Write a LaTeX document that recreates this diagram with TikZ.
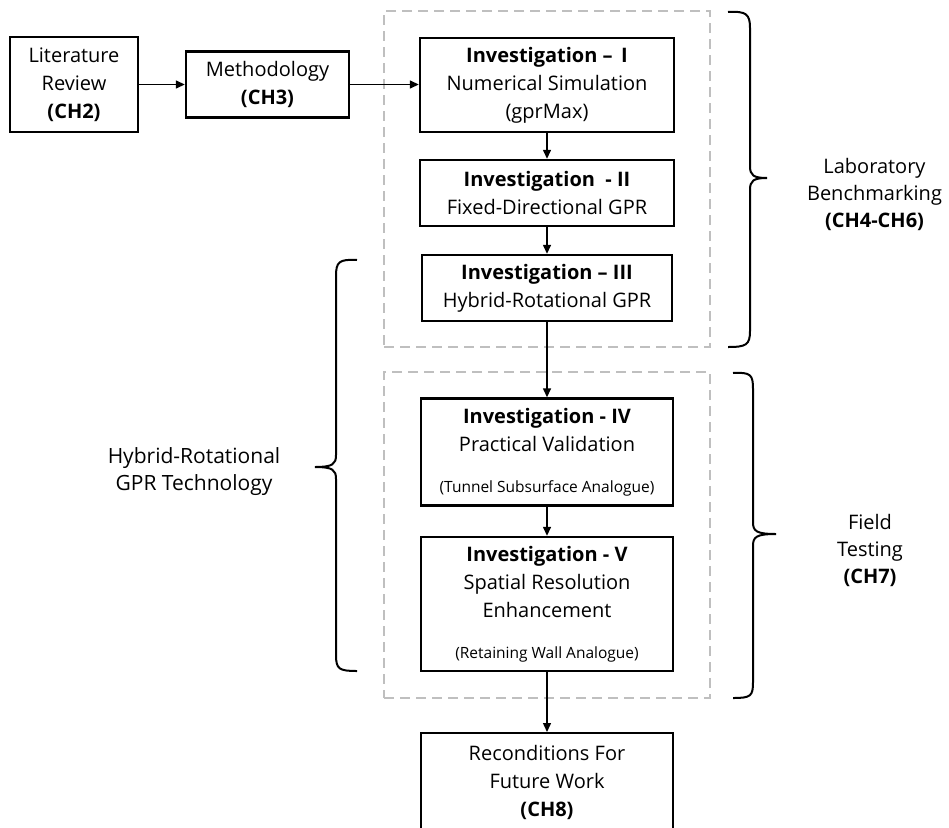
\documentclass[tikz,border=0pt]{standalone}
\usepackage{fontspec}
\setmainfont{Open Sans}
\usetikzlibrary{arrows.meta}
\newcommand\smtxt{\fontsize{15.5}{17}\selectfont}
\begin{document}
\begin{tikzpicture}[x=1pt,y=-1pt,
  box/.style={draw, line width=2.4pt, align=center, inner sep=0pt, font=\fontsize{20}{28}\selectfont},
  grp/.style={draw=black!25, dash pattern=on 10pt off 6pt, line width=2pt, inner sep=0pt},
  conn/.style={line width=1.4pt, -{Triangle[length=9pt,width=8pt]}},
  brc/.style={line width=2pt},
  lbl/.style={align=center, inner sep=0pt, font=\fontsize{20}{27}\selectfont}
]
\clip (0,0) rectangle (949,827);
% groups
\node[grp, minimum width=326pt, minimum height=336pt] (g1) at (547,179) {};
\node[grp, minimum width=326pt, minimum height=326pt] (g2) at (547,535) {};
% boxes
\node[box, minimum width=128pt, minimum height=95pt] (lit) at (74,84.5) {Literature\\Review\\\textbf{(CH2)}};
\node[box, minimum width=163pt, minimum height=66pt] (meth) at (267.5,84.5) {Methodology\\\textbf{(CH3)}};
\node[box, minimum width=254pt, minimum height=94pt] (inv1) at (547,85) {\textbf{Investigation -- \,I}\\Numerical Simulation\\(gprMax)};
\node[box, minimum width=254pt, minimum height=66pt] (inv2) at (547,193) {\textbf{Investigation \ - II}\\Fixed-Directional GPR};
\node[box, minimum width=250pt, minimum height=66pt] (inv3) at (547,288) {\textbf{Investigation -- III}\\Hybrid-Rotational GPR};
\node[box, minimum width=252pt, minimum height=107pt] (inv4) at (547,452) {\textbf{Investigation - IV}\\Practical Validation\\[13pt]{\smtxt (Tunnel Subsurface Analogue)}};
\node[box, minimum width=252pt, minimum height=134pt] (inv5) at (547,604) {\textbf{Investigation - V}\\Spatial Resolution\\Enhancement\\[13pt]{\smtxt (Retaining Wall Analogue)}};
\node[box, minimum width=252pt, anchor=north, inner ysep=12pt, text depth=80pt] (recon) at (547,732) {Reconditions For\\Future Work\\\textbf{(CH8)}};
% connectors
\draw[conn] (lit.east) -- (lit.east -| meth.west);
\draw[conn] (meth.east) -- (meth.east -| inv1.west);
\draw[conn] (inv1) -- (inv2);
\draw[conn] (inv2) -- (inv3);
\draw[conn] (inv3) -- (inv4);
\draw[conn] (inv4) -- (inv5);
\draw[conn] (inv5) -- (recon);
% side labels
\node[lbl] (lab) at (874.5,194) {Laboratory\\Benchmarking\\\textbf{(CH4-CH6)}};
\node[lbl] (field) at (870,550) {Field\\Testing\\\textbf{(CH7)}};
\node[lbl, font=\fontsize{21}{27}\selectfont] (hyb) at (194,472) {Hybrid-Rotational\\GPR Technology};
% braces
\draw[brc] (728,12) .. controls (746,11) and (750,14) .. (750,28) -- (750,166) .. controls (750,175) and (753,178) .. (767,178)
  .. controls (753,178) and (750,181) .. (750,190) -- (750,331) .. controls (750,345) and (746,347) .. (728,347);
\draw[brc] (733,373) .. controls (751,372) and (753,375) .. (753,389) -- (753,522) .. controls (753,531) and (756,534) .. (776,534)
  .. controls (756,534) and (753,537) .. (753,546) -- (753,682) .. controls (753,696) and (751,698) .. (733,698);
\draw[brc] (357,260) .. controls (339,259) and (336,262) .. (336,276) -- (336,455) .. controls (336,464) and (333,467) .. (315,467)
  .. controls (333,467) and (336,470) .. (336,479) -- (336,655) .. controls (336,669) and (339,671) .. (357,671);
\end{tikzpicture}
\end{document}
